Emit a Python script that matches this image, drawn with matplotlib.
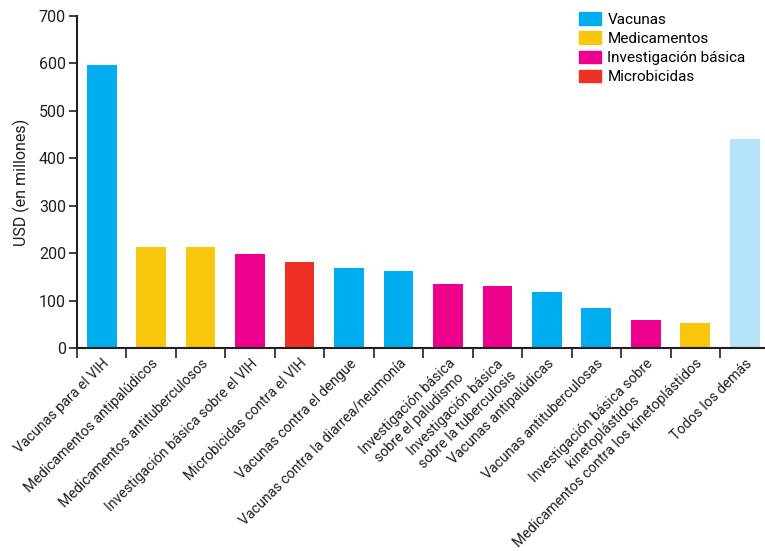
import matplotlib
matplotlib.use("Agg")
import matplotlib.pyplot as plt
from matplotlib.patches import Patch
import numpy as np

plt.rcParams['font.family'] = ['Roboto', 'DejaVu Sans']

categories = [
    "Vacunas para el VIH",
    "Medicamentos antipalúdicos",
    "Medicamentos antituberculosos",
    "Investigación básica sobre el VIH",
    "Microbicidas contra el VIH",
    "Vacunas contra el dengue",
    "Vacunas contra la diarrea/neumonía",
    "Investigación básica\nsobre el paludismo",
    "Investigación básica\nsobre la tuberculosis",
    "Vacunas antipalúdicas",
    "Vacunas antituberculosas",
    "Investigación básica sobre\nkinetoplástidos",
    "Medicamentos contra los kinetoplástidos",
    "Todos los demás",
]
values = [596, 214, 212, 199, 182, 169, 163, 135, 131, 119, 85, 59, 53, 440]
groups = ["Vacunas", "Medicamentos", "Medicamentos", "Investigación", "Microbicidas",
          "Vacunas", "Vacunas", "Investigación", "Investigación", "Vacunas", "Vacunas",
          "Investigación", "Medicamentos", "Otros"]
legend_labels = ["Vacunas", "Medicamentos", "Investigación básica", "Microbicidas"]
yticks = [0, 100, 200, 300, 400, 500, 600, 700]

colors = {
    "Vacunas": "#00AEEF",
    "Medicamentos": "#F8C60B",
    "Investigación": "#EC008C",
    "Microbicidas": "#EE3124",
    "Otros": "#B5E3F8",
}

fig = plt.figure(figsize=(7.65, 5.51), dpi=100)
ax = fig.add_axes([77/765, 1-348/551, 1-77/765, (348-16)/551])

x = np.arange(len(values)) + 0.5
ax.bar(x, values, width=0.6, color=[colors[g] for g in groups], zorder=2)

ax.set_ylim(0, 700)
ax.set_xlim(0, (765-77)/49.46)
ax.set_yticks(yticks)
ax.set_yticklabels([str(v) for v in yticks], fontsize=11.5, color="#231F20")
ax.tick_params(axis='y', length=6, width=1.2, color="#231F20", pad=2)

ax.set_xticks(np.arange(0, len(values)))
ax.set_xticklabels([])
ax.tick_params(axis='x', which='major', length=7, width=1.2, color="#231F20")
ax.set_xticks(x, minor=True)
ax.set_xticklabels(categories, minor=True, rotation=45, ha='right', va='top',
                   rotation_mode='anchor', fontsize=10.2, color="#231F20",
                   multialignment='center')
ax.tick_params(axis='x', which='minor', length=0, pad=6)

for s in ['top', 'right']:
    ax.spines[s].set_visible(False)
for s in ['left', 'bottom']:
    ax.spines[s].set_linewidth(1.5)
    ax.spines[s].set_color("#231F20")

ax.set_ylabel("USD (en millones)", fontsize=11.5, color="#231F20", labelpad=6)

handles = [Patch(color=colors[k]) for k in ["Vacunas", "Medicamentos", "Investigación", "Microbicidas"]]
fig.legend(handles, legend_labels, loc='upper left', bbox_to_anchor=(573/765, 1-6/551),
           frameon=False, fontsize=11, handlelength=1.4, handleheight=0.9,
           handletextpad=0.45, labelspacing=0.3, borderaxespad=0)

fig.savefig("out.png", dpi=100)
